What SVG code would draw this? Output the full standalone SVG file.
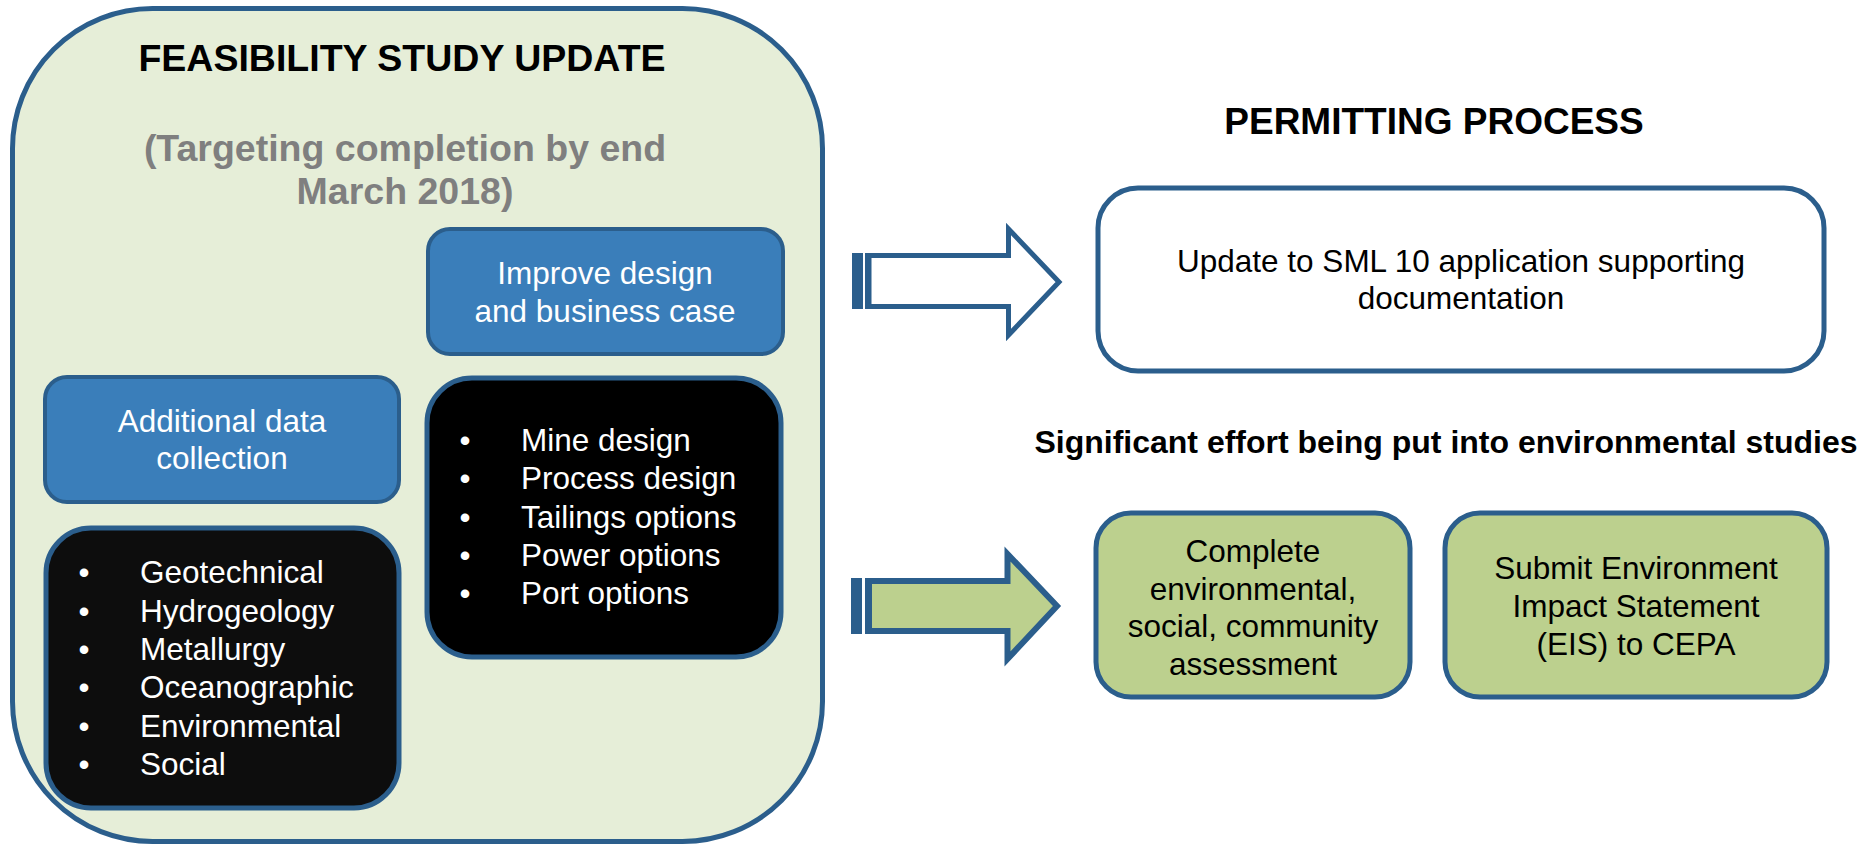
<svg xmlns="http://www.w3.org/2000/svg" width="1869" height="846" viewBox="0 0 1869 846">
<style>
text{font-family:"Liberation Sans",Arial,sans-serif;}
.t{font-size:31.5px;text-anchor:middle;}
.w{fill:#ffffff;}
.k{fill:#000000;}
.li{font-size:31.5px;fill:#ffffff;}
.bu{font-size:31.5px;fill:#ffffff;text-anchor:middle;}
.h{font-weight:bold;text-anchor:middle;}
.blue{fill:#3A7EBA;stroke:#2B5E8C;stroke-width:4;}
.blk{stroke:#2B5E8C;stroke-width:5;}
.grn{fill:#BCD08E;stroke:#2B5E8C;stroke-width:5;}
.stripe{fill:#2B5E8C;}
</style>
<rect width="1869" height="846" fill="#ffffff"/>

<g id="feasibility">
<rect x="12.5" y="8.5" width="810" height="833" rx="140" ry="140" fill="#E6EED8" stroke="#2B5E8C" stroke-width="5"/>
<text class="h" x="402" y="71" font-size="37.5" fill="#000000">FEASIBILITY STUDY UPDATE</text>
<text class="h" x="405" y="161" font-size="37.5" fill="#7F7F7F">(Targeting completion by end</text>
<text class="h" x="405" y="204" font-size="37.5" fill="#7F7F7F">March 2018)</text>
</g>

<g id="improve">
<rect class="blue" x="428" y="229" width="355" height="125" rx="22"/>
<text class="t w" x="605" y="284">Improve design</text>
<text class="t w" x="605" y="322">and business case</text>
</g>

<g id="additional">
<rect class="blue" x="45" y="377" width="354" height="125" rx="22"/>
<text class="t w" x="222" y="432">Additional data</text>
<text class="t w" x="222" y="469">collection</text>
</g>

<g id="datalist">
<rect class="blk" x="46" y="528" width="353" height="280" rx="45" fill="#0D0D0D"/>
<text class="bu" x="84" y="583">•</text><text class="li" x="140" y="583">Geotechnical</text>
<text class="bu" x="84" y="622">•</text><text class="li" x="140" y="622">Hydrogeology</text>
<text class="bu" x="84" y="660">•</text><text class="li" x="140" y="660">Metallurgy</text>
<text class="bu" x="84" y="698">•</text><text class="li" x="140" y="698">Oceanographic</text>
<text class="bu" x="84" y="737">•</text><text class="li" x="140" y="737">Environmental</text>
<text class="bu" x="84" y="775">•</text><text class="li" x="140" y="775">Social</text>
</g>

<g id="designlist">
<rect class="blk" x="427" y="378" width="354" height="279" rx="45" fill="#000000"/>
<text class="bu" x="465" y="451">•</text><text class="li" x="521" y="451">Mine design</text>
<text class="bu" x="465" y="489">•</text><text class="li" x="521" y="489">Process design</text>
<text class="bu" x="465" y="528">•</text><text class="li" x="521" y="528">Tailings options</text>
<text class="bu" x="465" y="566">•</text><text class="li" x="521" y="566">Power options</text>
<text class="bu" x="465" y="604">•</text><text class="li" x="521" y="604">Port options</text>
</g>

<g id="permitting-title">
<text class="h" x="1434" y="134" font-size="37" fill="#000000">PERMITTING PROCESS</text>
</g>

<g id="sml">
<rect x="1098" y="188" width="726" height="183" rx="40" fill="#ffffff" stroke="#2B5E8C" stroke-width="5"/>
<text class="t k" x="1461" y="272">Update to SML 10 application supporting</text>
<text class="t k" x="1461" y="309">documentation</text>
</g>

<g id="env-note">
<text class="h" x="1446" y="453" font-size="32" fill="#000000">Significant effort being put into environmental studies</text>
</g>

<g id="assessment">
<rect class="grn" x="1096" y="513" width="314" height="184" rx="35"/>
<text class="t k" x="1253" y="562">Complete</text>
<text class="t k" x="1253" y="600">environmental,</text>
<text class="t k" x="1253" y="637">social, community</text>
<text class="t k" x="1253" y="675">assessment</text>
</g>

<g id="eis">
<rect class="grn" x="1445" y="513" width="382" height="184" rx="35"/>
<text class="t k" x="1636" y="579">Submit Environment</text>
<text class="t k" x="1636" y="617">Impact Statement</text>
<text class="t k" x="1636" y="655">(EIS) to CEPA</text>
</g>

<g id="connectors">
<rect class="stripe" x="852" y="253" width="11" height="56"/>
<rect class="stripe" x="865" y="253" width="6" height="56"/>
<polygon points="869,255.5 1008.5,255.5 1008.5,229 1059,282 1008.5,335 1008.5,306.5 869,306.5" fill="#ffffff" stroke="#2B5E8C" stroke-width="5"/>
<rect class="stripe" x="851" y="578" width="11" height="56"/>
<rect class="stripe" x="865" y="578" width="7" height="56"/>
<polygon points="869,581 1007.5,581 1007.5,554 1057,606 1007.5,659 1007.5,631 869,631" fill="#BCD08E" stroke="#2B5E8C" stroke-width="6"/>
</g>
</svg>
